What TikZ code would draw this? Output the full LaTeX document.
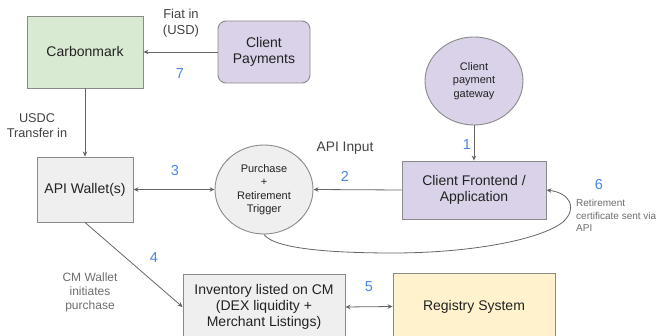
\documentclass[tikz,border=0pt]{standalone}
\usepackage{fontspec}
\setmainfont{Liberation Sans}
\usetikzlibrary{arrows.meta,shapes.geometric}
\definecolor{bordergray}{HTML}{8A8A8A}
\definecolor{linegray}{HTML}{666666}
\definecolor{greenfill}{HTML}{D9EAD3}
\definecolor{lavfill}{HTML}{D9D2E9}
\definecolor{grayfill}{HTML}{EFEFEF}
\definecolor{yellowfill}{HTML}{FFF2CC}
\definecolor{numblue}{HTML}{4A86E8}
\definecolor{txtdark}{HTML}{222222}
\definecolor{txtmid}{HTML}{434343}
\definecolor{txtlight}{HTML}{6E6E6E}
\tikzset{
  box/.style={draw=bordergray, line width=0.9pt, align=center, inner sep=0pt,
    text=txtdark, font=\fontsize{14}{16}\selectfont},
  oval/.style={box, ellipse, font=\fontsize{11}{13.5}\selectfont},
  num/.style={text=numblue, font=\fontsize{14.5}{16}\selectfont, inner sep=0pt},
  lbl/.style={text=txtmid, align=center, inner sep=0pt},
  note/.style={text=txtlight, inner sep=0pt},
  conn/.style={draw=linegray, line width=0.8pt, -{Stealth[length=5pt,width=4.5pt]}},
  dconn/.style={draw=linegray, line width=0.8pt, {Stealth[length=5pt,width=4.5pt]}-{Stealth[length=5pt,width=4.5pt]}}
}
\begin{document}
\begin{tikzpicture}[x=1pt,y=-1pt]
\useasboundingbox (0,0) rectangle (656,336);
\clip (0,0) rectangle (656,336);
\fill[white] (0,0) rectangle (656,336);

% nodes
\node[box, fill=greenfill, minimum width=116pt, minimum height=72pt] (cm) at (85,52) {Carbonmark};
\node[box, fill=lavfill, rounded corners=8pt, minimum width=92pt, minimum height=62pt] (pay) at (264,52) {Client\\Payments};
\node[oval, fill=lavfill, minimum width=98pt, minimum height=88pt] (gw) at (474,81) {Client\\payment\\gateway};
\node[box, fill=grayfill, minimum width=96pt, minimum height=65pt] (wal) at (85,189.5) {API Wallet(s)};
\node[oval, fill=grayfill, minimum width=98pt, minimum height=89pt] (trig) at (264,189.5) {Purchase\\+\\Retirement\\Trigger};
\node[box, fill=lavfill, minimum width=144pt, minimum height=58pt] (fe) at (474,190) {Client Frontend /\\Application};
\node[box, fill=grayfill, minimum width=162pt, minimum height=66pt] (inv) at (264,307) {Inventory listed on CM\\(DEX liquidity +\\Merchant Listings)};
\node[box, fill=yellowfill, minimum width=162pt, minimum height=67pt] (reg) at (474,306.5) {Registry System};

% connectors
\draw[conn] (pay.west) -- (cm.east);
\draw[conn] (cm.south) -- (wal.north);
\draw[conn] (gw.south) -- (fe.north);
\draw[conn] (fe.west) -- (trig.east);
\draw[dconn] (wal.east) -- (trig.west);
\draw[conn] (wal.south) -- (inv.west);
\draw[dconn] (inv.east) -- (reg.west);
\draw[conn] (trig.south) .. controls (275,250) and (340,253) .. (393,253)
  .. controls (470,253) and (540,240) .. (563,222)
  .. controls (578,208) and (570,193) .. (fe.east);

% labels
\node[lbl, font=\fontsize{13}{16}\selectfont] (fiat) at (181,23) {Fiat in\\(USD)};
\node[num] (n7) at (180,74) {7};
\node[lbl, font=\fontsize{12.7}{15}\selectfont] (usdc) at (37,125.5) {USDC\\Transfer in};
\node[lbl, font=\fontsize{13.8}{16}\selectfont] (apiin) at (345,148) {API Input};
\node[num] (n2) at (345,176) {2};
\node[num] (n1) at (467,145) {1};
\node[num] (n3) at (175,171) {3};
\node[num] (n4) at (154,258) {4};
\node[num] (n5) at (369,287) {5};
\node[num] (n6) at (599,185) {6};
\node[note, align=center, font=\fontsize{12}{14}\selectfont] (cmw) at (90,292) {CM Wallet\\initiates\\purchase};
\node[note, align=left, anchor=west, font=\fontsize{10}{12.5}\selectfont] (cert) at (576,215.5) {Retirement\\certificate sent via\\API};
\end{tikzpicture}
\end{document}
